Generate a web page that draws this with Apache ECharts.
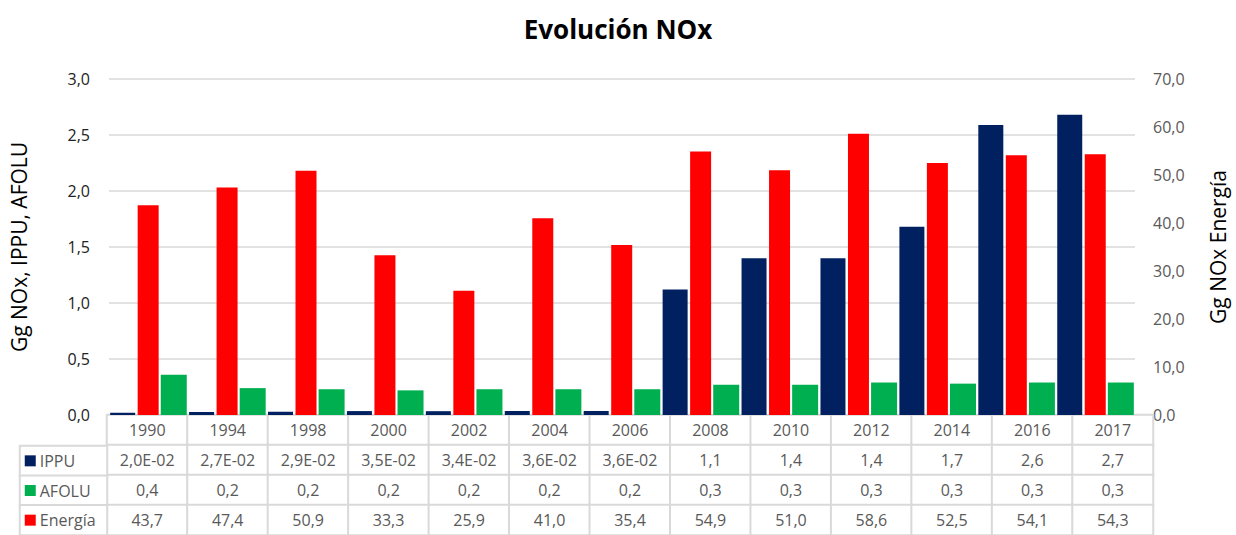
<!DOCTYPE html>
<html>
<head>
<meta charset="utf-8">
<script src="https://cdn.jsdelivr.net/npm/echarts@6/dist/echarts.min.js"></script>
<style>
  html, body { margin: 0; padding: 0; background: #fff; }
  #chart { width: 1236px; height: 535px; }
</style>
</head>
<body>
<div id="chart"></div>
<script>
  // data
  const years = ['1990', '1994', '1998', '2000', '2002', '2004', '2006', '2008', '2010', '2012', '2014', '2016', '2017']
  const ippu = [0.020, 0.027, 0.029, 0.035, 0.034, 0.036, 0.036, 1.12, 1.40, 1.40, 1.68, 2.59, 2.68]
  const afolu = [0.36, 0.24, 0.23, 0.22, 0.23, 0.23, 0.23, 0.27, 0.27, 0.29, 0.28, 0.29, 0.29]
  const energia = [43.7, 47.4, 50.9, 33.3, 25.9, 41.0, 35.4, 54.9, 51.0, 58.6, 52.5, 54.1, 54.3]
  const seriesNames = ['IPPU', 'AFOLU', 'Energía']
  const colors = { IPPU: '#002060', AFOLU: '#00B050', 'Energía': '#FF0000' }

  const font = '"Open Sans", "Noto Sans", sans-serif'
  const gray = '#595959'
  const lineGray = '#d9d9d9'

  function fmt (v) {
    if (v < 0.1) {
      let e = v.toExponential(1).split('e')
      let exp = parseInt(e[1], 10)
      let sign = exp < 0 ? '-' : '+'
      let digits = String(Math.abs(exp)).padStart(2, '0')
      return e[0].replace('.', ',') + 'E' + sign + digits
    }
    return v.toFixed(1).replace('.', ',')
  }

  // table rows: header + one per series
  const tableRows = [
    years,
    ippu.map(fmt),
    afolu.map(fmt),
    energia.map(fmt)
  ]
  let tableCells = []
  tableRows.forEach((row, r) => row.forEach((_, c) => tableCells.push([c, r, 1])))
  let legendCells = seriesNames.map((_, r) => [0, r, 1])

  const plotLeft = 107
  const plotRight = 1236 - 1153

  let dom = echarts.init(document.getElementById('chart'), null, { renderer: 'svg' })
  let option = {
    animation: false,
    textStyle: { fontFamily: font },
    title: {
      text: 'Evolución NOx',
      left: 'center',
      top: 11,
      textStyle: { fontSize: 26, fontWeight: 'bold', color: '#000', fontFamily: font }
    },
    visualMap: {
      show: false,
      seriesIndex: [3, 4],
      min: 0,
      max: 1,
      inRange: { color: ['#ffffff', '#ffffff'] }
    },
    grid: [
      { left: plotLeft, right: plotRight, top: 79, height: 336 },
      { left: plotLeft, right: plotRight, top: 415, height: 124 },
      { left: 20, width: 87, top: 446, height: 93 }
    ],
    xAxis: [
      {
        type: 'category', gridIndex: 0, data: years,
        axisLine: { lineStyle: { color: lineGray, width: 1.5 } },
        axisTick: { show: false },
        axisLabel: { show: false }
      },
      { type: 'category', gridIndex: 1, data: years, show: false },
      { type: 'category', gridIndex: 2, data: [''], show: false }
    ],
    yAxis: [
      {
        type: 'value', gridIndex: 0, min: 0, max: 3, interval: 0.5,
        name: 'Gg NOx, IPPU, AFOLU',
        nameLocation: 'middle', nameGap: 80,
        nameTextStyle: { fontSize: 21, color: '#000', fontFamily: font },
        axisLabel: { formatter: v => v.toFixed(1).replace('.', ','), fontSize: 16, color: '#222', margin: 19 },
        splitLine: { lineStyle: { color: lineGray, width: 1.5 } }
      },
      {
        type: 'value', gridIndex: 0, min: 0, max: 70, interval: 10, position: 'right',
        name: 'Gg NOx Energía',
        nameLocation: 'middle', nameGap: 72, nameRotate: 90,
        nameTextStyle: { fontSize: 21, color: '#000', fontFamily: font },
        axisLabel: { formatter: v => v.toFixed(1).replace('.', ','), fontSize: 16, color: gray, margin: 18 },
        splitLine: { show: false }
      },
      { type: 'category', gridIndex: 1, data: ['', 'IPPU', 'AFOLU', 'Energía'], inverse: true, show: false },
      { type: 'category', gridIndex: 2, data: seriesNames, inverse: true, show: false }
    ],
    series: [
      {
        name: 'IPPU', type: 'bar', xAxisIndex: 0, yAxisIndex: 0,
        data: ippu, barWidth: 25, barGap: '10%',
        itemStyle: { color: colors.IPPU }
      },
      {
        name: 'Energía', type: 'bar', xAxisIndex: 0, yAxisIndex: 1,
        data: energia, barWidth: 21, barGap: '10%',
        itemStyle: { color: colors['Energía'] }
      },
      {
        name: 'AFOLU', type: 'bar', xAxisIndex: 0, yAxisIndex: 0,
        data: afolu, barWidth: 26, barGap: '10%',
        itemStyle: { color: colors.AFOLU }
      },
      {
        name: 'tabla', type: 'heatmap', xAxisIndex: 1, yAxisIndex: 2,
        data: tableCells,
        itemStyle: { color: '#fff', borderColor: lineGray, borderWidth: 2 },
        label: {
          show: true, fontSize: 16, color: gray, fontFamily: font,
          formatter: p => tableRows[p.data[1]][p.data[0]]
        },
        emphasis: { disabled: true }
      },
      {
        name: 'leyenda', type: 'heatmap', xAxisIndex: 2, yAxisIndex: 3,
        data: legendCells,
        itemStyle: { color: '#fff', borderColor: lineGray, borderWidth: 2 },
        label: {
          show: true, position: 'insideLeft', distance: 6,
          formatter: p => '{k' + p.data[1] + '|}{t|' + seriesNames[p.data[1]] + '}',
          rich: {
            k0: { width: 11, height: 11, backgroundColor: colors.IPPU },
            k1: { width: 11, height: 11, backgroundColor: colors.AFOLU },
            k2: { width: 11, height: 11, backgroundColor: colors['Energía'] },
            t: { fontSize: 16, color: gray, fontFamily: font, padding: [0, 0, 0, 4] }
          }
        },
        emphasis: { disabled: true }
      }
    ]
  }
  dom.setOption(option)
  window.addEventListener('resize', dom.resize)
</script>
</body>
</html>
